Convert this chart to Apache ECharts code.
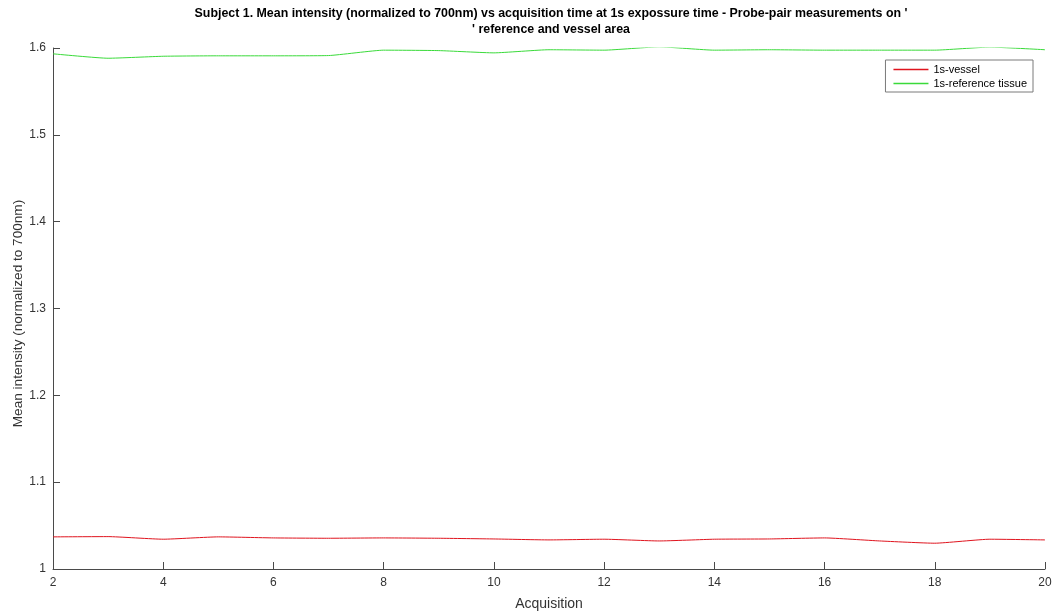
<!DOCTYPE html>
<html><head><meta charset="utf-8">
<script src="https://cdn.jsdelivr.net/npm/echarts@6/dist/echarts.min.js"></script>
<style>html,body{margin:0;padding:0;background:#fff}#c{width:1057px;height:612px}</style>
</head><body><div id="c"></div>
<script>
const acquisitions = [2,3,4,5,6,7,8,9,10,11,12,13,14,15,16,17,18,19,20];
const vessel = [1.037,1.0373,1.0343,1.037,1.0358,1.0354,1.0358,1.0354,1.0346,1.0335,1.0343,1.0323,1.0343,1.0346,1.0358,1.0323,1.0297,1.0343,1.0335];
const reference = [1.5933,1.5882,1.5905,1.591,1.591,1.5913,1.5975,1.597,1.5944,1.598,1.5975,1.6013,1.5975,1.598,1.5975,1.5975,1.5975,1.601,1.598];
const seriesNames = ['1s-vessel','1s-reference tissue'];
const titleText = "Subject 1. Mean intensity (normalized to 700nm) vs acquisition time at 1s expossure time - Probe-pair measurements on '\n' reference and vessel area";

const font = '"Liberation Sans", Arial, sans-serif';
const axisCol = '#4a4a4a';
const labelCol = '#333333';
const chart = echarts.init(document.getElementById('c'), null, {renderer:'canvas'});
chart.setOption({
  animation:false,
  backgroundColor:'#fff',
  title:{text:titleText,left:546,top:1,textAlign:'center',
    textStyle:{fontFamily:font,fontSize:12.4,fontWeight:'bold',color:'#000',lineHeight:16}},
  legend:{right:24,top:60,orient:'vertical',itemWidth:35,itemHeight:1.5,itemGap:3,
    icon:'rect',borderColor:'#7a7a7a',borderWidth:1,padding:[4,6,3,8],backgroundColor:'#fff',
    textStyle:{fontFamily:font,fontSize:11,color:'#000'},data:seriesNames},
  grid:{left:53,right:12,top:48,bottom:43,containLabel:false,outerBoundsMode:'none'},
  xAxis:{type:'value',min:2,max:20,interval:2,name:'Acquisition',nameLocation:'middle',nameGap:28,
    nameMoveOverlap:false,
    nameTextStyle:{fontFamily:font,fontSize:14,color:labelCol},
    axisLine:{lineStyle:{color:axisCol,width:1}},
    axisTick:{inside:true,length:7,lineStyle:{color:axisCol}},
    axisLabel:{fontFamily:font,fontSize:12,color:labelCol,margin:8},
    splitLine:{show:false}},
  yAxis:{type:'value',min:1,max:1.6,interval:0.1,name:'Mean intensity (normalized to 700nm)',
    nameLocation:'middle',nameGap:28,nameMoveOverlap:false,
    nameTextStyle:{fontFamily:font,fontSize:13.6,color:labelCol,padding:[0,10,0,0]},
    axisLine:{show:true,lineStyle:{color:axisCol,width:1}},
    axisTick:{show:true,inside:true,length:7,lineStyle:{color:axisCol}},
    axisLabel:{fontFamily:font,fontSize:12,color:labelCol,margin:7,
      formatter:v=>String(+v.toFixed(1))},
    splitLine:{show:false}},
  series:[
    {name:seriesNames[0],type:'line',showSymbol:false,symbol:'none',smooth:0.15,
      data:acquisitions.map((a,i)=>[a,vessel[i]]),lineStyle:{color:'#e0141e',width:1},itemStyle:{color:'#e0141e'}},
    {name:seriesNames[1],type:'line',showSymbol:false,symbol:'none',smooth:0.15,
      data:acquisitions.map((a,i)=>[a,reference[i]]),lineStyle:{color:'#3ada3a',width:1},itemStyle:{color:'#3ada3a'}}
  ]
});
</script></body></html>
